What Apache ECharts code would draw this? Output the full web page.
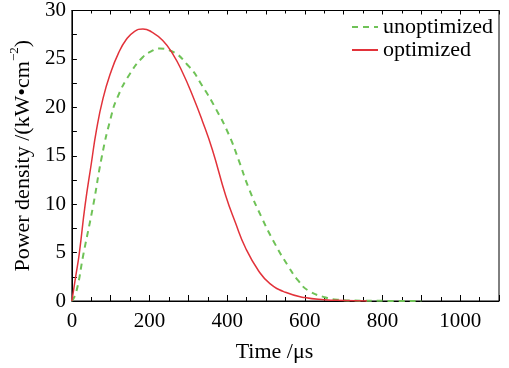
<!DOCTYPE html>
<html>
<head>
<meta charset="utf-8">
<script src="https://cdn.jsdelivr.net/npm/echarts@6/dist/echarts.min.js"></script>
<style>
  html, body { margin: 0; padding: 0; background: #fff; }
  #chart { width: 509px; height: 368px; }
</style>
</head>
<body>
<div id="chart"></div>
<script>
// 功率密度曲线
var optTime = [0, 10, 19, 34, 50, 63, 80, 100, 120, 140, 160, 183, 205, 234, 260, 285, 311, 336, 362, 396, 421, 447, 481, 510, 550, 600, 650, 700, 760];
var optPower = [0, 2.6, 4.9, 9.9, 14.2, 17.6, 20.9, 23.6, 25.6, 27.0, 27.8, 28.1, 27.8, 26.9, 25.5, 23.6, 21.2, 18.6, 15.6, 10.9, 8.1, 5.5, 3.1, 1.8, 0.9, 0.35, 0.13, 0.05, 0];
var unoptTime = [0, 11, 30, 55, 77, 100, 117, 150, 183, 205, 226, 251, 302, 336, 370, 404, 430, 455, 489, 523, 557, 583, 608, 650, 684, 750, 820, 900];
var unoptPower = [0, 0.9, 4.9, 9.9, 14.9, 18.9, 21.0, 23.5, 25.2, 25.8, 26.07, 25.9, 24.2, 22.2, 19.9, 17.2, 14.5, 11.7, 8.6, 5.9, 3.6, 2.1, 1.1, 0.4, 0.13, 0.03, 0.01, 0];
var legendNames = ["unoptimized", "optimized"];

function zip(xs, ys) {
    return xs.map(function (x, i) { return [x, ys[i]]; });
}

var font = "Liberation Serif";
var myChart = echarts.init(document.getElementById("chart"));
var options = {
    animation: false,
    textStyle: { fontFamily: font },
    grid: {
        left: 68,
        right: 10,
        top: 9,
        bottom: 59,
        show: true,
        borderColor: "#000",
        borderWidth: 1,
    },
    legend: {
        data: legendNames,
        orient: "vertical",
        left: 346,
        top: 11,
        itemWidth: 26,
        itemHeight: 14,
        itemGap: 1,
        itemStyle: { opacity: 0 },
        textStyle: { fontFamily: font, fontSize: 22, color: "#000", lineHeight: 22 },
    },
    xAxis: [
        {
            type: "value",
            min: 0,
            max: 1100,
            interval: 100,
            name: "Time /μs",
            nameLocation: "middle",
            nameGap: 40,
            nameTextStyle: { fontFamily: font, fontSize: 22, color: "#000", padding: [0, 22, 0, 0] },
            axisLine: { show: true, lineStyle: { color: "#000", width: 1 } },
            axisTick: { inside: true, length: 6, lineStyle: { color: "#000" } },
            minorTick: { show: true, splitNumber: 2, length: 4, lineStyle: { color: "#000" } },
            splitLine: { show: false },
            axisLabel: {
                color: "#000",
                fontFamily: font,
                fontSize: 21,
                margin: 10,
                formatter: function (v) { return v % 200 === 0 ? String(v) : ""; },
            },
        },
        {
            type: "value",
            position: "top",
            min: 0,
            max: 1100,
            interval: 100,
            axisLine: { show: true, lineStyle: { color: "#000", width: 1 } },
            axisTick: { inside: true, length: 4, lineStyle: { color: "#000" } },
            minorTick: { show: true, splitNumber: 2, length: 3, lineStyle: { color: "#000" } },
            splitLine: { show: false },
            axisLabel: { show: false },
        },
    ],
    yAxis: [
        {
            type: "value",
            min: 0,
            max: 30,
            interval: 5,
            name: "{n|Power density /(kW•cm}{s|−2}{n|)}",
            nameLocation: "middle",
            nameGap: 32,
            nameTextStyle: {
                rich: {
                    n: { fontFamily: font, fontSize: 22, color: "#000", lineHeight: 26, verticalAlign: "bottom" },
                    s: { fontFamily: font, fontSize: 13, color: "#000", lineHeight: 26, verticalAlign: "top" },
                },
            },
            axisLine: { show: true, lineStyle: { color: "#000", width: 1 } },
            axisTick: { inside: true, length: 5, lineStyle: { color: "#000" } },
            minorTick: { show: true, splitNumber: 2, length: 5, lineStyle: { color: "#000" } },
            splitLine: { show: false },
            axisLabel: { color: "#000", fontFamily: font, fontSize: 21, margin: 6 },
        },
    ],
    series: [
        {
            name: "unoptimized",
            type: "line",
            smooth: 0.5,
            symbol: "none",
            data: zip(unoptTime, unoptPower),
            lineStyle: { color: "#6fc257", width: 2, type: [6, 5] },
            itemStyle: { color: "#6fc257" },
        },
        {
            name: "optimized",
            type: "line",
            smooth: 0.5,
            symbol: "none",
            data: zip(optTime, optPower),
            lineStyle: { color: "#e2323a", width: 1.5 },
            itemStyle: { color: "#e2323a" },
        },
    ],
};
myChart.setOption(options);
</script>
</body>
</html>
